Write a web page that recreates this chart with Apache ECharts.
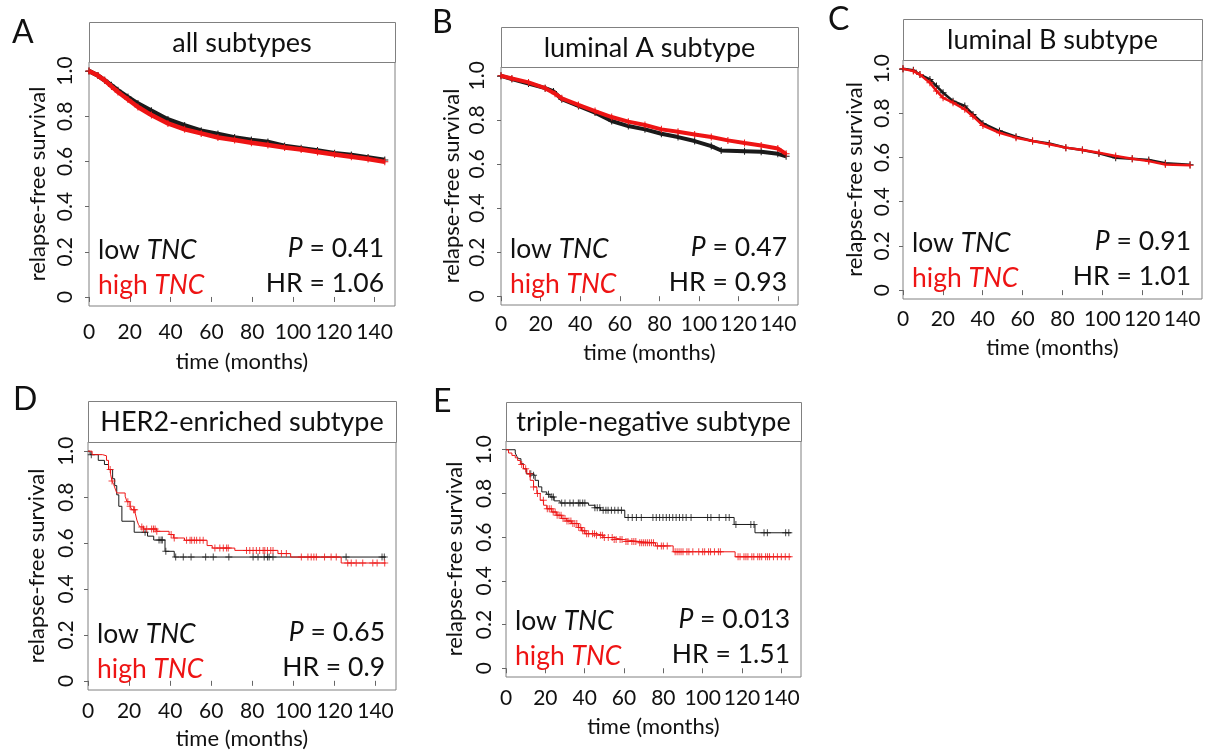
<!DOCTYPE html>
<html>
<head>
<meta charset="utf-8">
<title>TNC relapse-free survival by subtype</title>
<script src="https://cdn.jsdelivr.net/npm/echarts@6/dist/echarts.min.js"></script>
<style>
  html, body { margin: 0; padding: 0; background: #fff; }
  #chart { width: 1207px; height: 752px; }
</style>
</head>
<body>
<div id="chart"></div>
<script>
// ticks
const monthTicks = [0, 20, 40, 60, 80, 100, 120, 140]
const survivalTicks = [0, 0.2, 0.4, 0.6, 0.8, 1.0]

const panelLetters = ['A', 'B', 'C', 'D', 'E']
const panelTitles = ['all subtypes', 'luminal A subtype', 'luminal B subtype', 'HER2-enriched subtype', 'triple-negative subtype']
const pValues = ['0.41', '0.47', '0.91', '0.65', '0.013']
const hrValues = ['1.06', '0.93', '1.01', '0.9', '1.51']

// dense cohorts: [month, survival]
const allLow = [[0, 1.0], [4.4, 0.98], [7.7, 0.959], [11, 0.937], [14.2, 0.915], [19.1, 0.885], [24, 0.856], [30.6, 0.824], [38.7, 0.786], [46.9, 0.759], [55, 0.736], [63.2, 0.721], [71.4, 0.706], [79.6, 0.695], [87.7, 0.686], [95.9, 0.668], [104, 0.658], [112, 0.648], [120.4, 0.636], [128.6, 0.628], [136.8, 0.617], [145, 0.606]]
const allHigh = [[0, 1.0], [4.4, 0.98], [7.7, 0.959], [11, 0.932], [14.2, 0.907], [19.1, 0.874], [24, 0.841], [30.6, 0.805], [38.7, 0.768], [46.9, 0.742], [55, 0.724], [63.2, 0.706], [71.4, 0.695], [79.6, 0.683], [87.7, 0.673], [95.9, 0.662], [104, 0.653], [112, 0.642], [120.4, 0.631], [128.6, 0.621], [136.8, 0.611], [145, 0.598]]

const lumALow = [[0, 1.0], [5.5, 0.985], [13.9, 0.965], [22.3, 0.944], [26.5, 0.929], [30.7, 0.894], [39.1, 0.863], [47.5, 0.833], [55.9, 0.795], [64.3, 0.772], [72.7, 0.757], [81, 0.737], [89.4, 0.722], [97.8, 0.704], [106.2, 0.681], [111.2, 0.661], [123, 0.658], [131.4, 0.655], [139.8, 0.646], [144, 0.635]]
const lumAHigh = [[0, 1.0], [5.5, 0.988], [13.9, 0.97], [22.3, 0.944], [27.3, 0.919], [30.7, 0.898], [39.1, 0.868], [47.5, 0.84], [55.9, 0.813], [64.3, 0.792], [72.7, 0.777], [81, 0.757], [89.4, 0.746], [97.8, 0.734], [106.2, 0.722], [114.6, 0.707], [123, 0.695], [131.4, 0.684], [139.8, 0.67], [144, 0.646]]

const lumBLow = [[0, 1.0], [5.2, 0.994], [8.5, 0.974], [13.5, 0.952], [16.8, 0.922], [20.1, 0.892], [25.1, 0.854], [31, 0.832], [35.1, 0.794], [40.1, 0.753], [48.4, 0.719], [56.7, 0.693], [65, 0.674], [73.4, 0.663], [81.7, 0.644], [90, 0.633], [98.3, 0.618], [106.7, 0.598], [115, 0.594], [123.3, 0.588], [131.6, 0.573], [144, 0.567]]
const lumBHigh = [[0, 1.0], [5.2, 0.99], [8.5, 0.974], [13.5, 0.937], [16.8, 0.9], [20.1, 0.869], [25.1, 0.847], [31, 0.817], [35.1, 0.786], [40.1, 0.744], [48.4, 0.711], [56.7, 0.689], [65, 0.674], [73.4, 0.659], [81.7, 0.644], [90, 0.633], [98.3, 0.621], [106.7, 0.606], [115, 0.594], [123.3, 0.583], [131.6, 0.568], [144, 0.564]]

// small cohorts: KM steps [month, survival after the drop] and censor months
const her2Low = [[0, 1.0], [1, 0.985], [5, 0.96], [8, 0.942], [10, 0.92], [12, 0.88], [13, 0.85], [14, 0.81], [15, 0.76], [16.5, 0.695], [22.5, 0.647], [29, 0.63], [32, 0.613], [37.5, 0.564], [42, 0.539], [145, 0.539]]
const her2High = [[0, 1.0], [2, 0.985], [7, 0.98], [9, 0.96], [10, 0.92], [11, 0.9], [11.7, 0.87], [12.5, 0.855], [13.3, 0.835], [14, 0.818], [18.1, 0.804], [19, 0.78], [20.5, 0.76], [21.4, 0.745], [23, 0.73], [23.8, 0.7], [24.6, 0.68], [25.4, 0.67], [27, 0.661], [33.5, 0.651], [39.5, 0.637], [41.6, 0.622], [47, 0.612], [58, 0.589], [60.5, 0.578], [71.5, 0.568], [92.5, 0.554], [98.7, 0.539], [123.3, 0.513], [145, 0.513]]
const her2LowCensor = [1.6, 27.8, 34.6, 35.6, 36.2, 37.9, 42.7, 46.4, 50.2, 57.3, 61, 68.6, 80.4, 82.8, 85.8, 87.4, 88.2, 90.1, 125.7, 143.2, 144.3]
const her2HighCensor = [10.8, 11.7, 19.4, 20.5, 22.2, 22.7, 26.2, 27, 28.6, 31, 31.9, 32.7, 33.5, 40.5, 42, 48, 49.7, 50.5, 51.8, 52.9, 54.5, 56.1, 61.8, 64.2, 65.9, 67.5, 68.3, 77.2, 78.8, 80.4, 82, 83.6, 85.3, 86.1, 87.4, 89, 90.1, 94.2, 96.6, 103.9, 107.1, 108.7, 110, 111.2, 115.2, 118.4, 120.9, 126.5, 128.2, 130.6, 133.8, 138.7, 140.8, 144.5]

const tnLow = [[0, 1.0], [4.7, 0.985], [5.5, 0.97], [6.4, 0.959], [7.6, 0.936], [8.9, 0.913], [10.3, 0.89], [13.2, 0.883], [14.8, 0.86], [16.5, 0.83], [18.2, 0.807], [20.7, 0.796], [22.4, 0.784], [24.5, 0.766], [27.5, 0.756], [42, 0.746], [45.2, 0.735], [48, 0.723], [60.4, 0.69], [116, 0.658], [126.6, 0.62], [145, 0.62]]
const tnHigh = [[0, 1.0], [1.3, 0.985], [3, 0.974], [4.7, 0.963], [5.9, 0.951], [7.3, 0.933], [8.9, 0.913], [10.6, 0.89], [12.3, 0.86], [14, 0.83], [15.7, 0.8], [17.4, 0.769], [19.1, 0.746], [20.7, 0.73], [23.3, 0.715], [25.8, 0.7], [28.3, 0.685], [30.9, 0.674], [33.4, 0.662], [36.8, 0.644], [38.4, 0.629], [40.1, 0.616], [45.2, 0.609], [49.4, 0.598], [54.5, 0.589], [59.5, 0.58], [68, 0.574], [76, 0.56], [85, 0.533], [116.5, 0.51], [145, 0.51]]
const tnLowCensor = [12.6, 14, 21.6, 23.3, 24.1, 28.3, 30, 32.5, 34.2, 36.8, 37.6, 39, 40.1, 45.2, 46.4, 47.7, 49.4, 50.8, 51.9, 53.6, 55.3, 57, 58.7, 62.1, 64.2, 66.3, 68.8, 74.7, 76.4, 78.1, 79.8, 81.5, 83.1, 84.8, 86.5, 88.2, 89.9, 91.6, 94.1, 102.5, 104.2, 108.4, 111.8, 113.5, 116.9, 124.5, 126.1, 131.2, 132.9, 142.2, 143.8]
const tnHighCensor = [8, 10, 12, 14, 16, 19, 21, 22, 23, 24, 25, 26, 27, 28, 29, 30, 31, 32, 33, 34, 35, 36, 37, 38, 39, 40, 41, 42, 44, 45, 46, 48, 49, 50, 52, 54, 55, 56, 58, 59, 61, 62, 64, 65, 66, 68, 69, 70, 71, 72, 73, 74, 75, 77, 79, 80, 82, 86, 87, 88, 89, 90, 92, 93, 95, 98, 100, 101, 103, 104, 106, 108, 109, 118, 119, 121, 122, 123, 125, 126, 128, 129, 130, 132, 133, 134, 136, 138, 140, 142, 144]

const panels = [
  { low: allLow, high: allHigh, width: 4.5 },
  { low: lumALow, high: lumAHigh, width: 4 },
  { low: lumBLow, high: lumBHigh, width: 2.5 },
  { low: her2Low, high: her2High, lowCensor: her2LowCensor, highCensor: her2HighCensor, width: 1 },
  { low: tnLow, high: tnHigh, lowCensor: tnLowCensor, highCensor: tnHighCensor, width: 1 },
]

// layout of each panel (px): plot box, header top, letter spot, label gaps
const boxes = [
  { left: 89, top: 62, width: 306, height: 244, head: 22, lx: 12, ly: 33, xLab: 16, xName: 45, yLab: 13, yName: 40 },
  { left: 501, top: 67, width: 297, height: 238, head: 27, lx: 432, ly: 23, xLab: 9, xName: 37, yLab: 13, yName: 38 },
  { left: 903, top: 60, width: 299, height: 239, head: 19, lx: 828, ly: 20, xLab: 10, xName: 38, yLab: 10, yName: 37 },
  { left: 88, top: 442, width: 308, height: 248, head: 401, lx: 13, ly: 400, xLab: 11, xName: 38, yLab: 11, yName: 40 },
  { left: 506, top: 441, width: 295, height: 236, head: 402, lx: 433, ly: 402, xLab: 11, xName: 39, yLab: 11, yName: 40 },
]

const FONT = 'Lato, "Open Sans", sans-serif'
const RED = '#ee1414'
const LOW = '#1a1a1a'
const CROSS = 'path://M3,0H4V3H7V4H4V7H3V4H0V3H3Z'
const NOTE = 26.5
const TICK = 21

function survivalAt(steps, t) {
  let v = steps[0][1]
  steps.forEach(([x, y]) => { if (x <= t) v = y })
  return v
}

let chart = echarts.init(document.getElementById('chart'), null, { renderer: 'canvas' })

let grid = [], xAxis = [], yAxis = [], series = [], graphic = []

boxes.forEach((b, i) => {
  grid.push({
    left: b.left, top: b.top, width: b.width, height: b.height,
    show: true, borderColor: '#808080', borderWidth: 1, backgroundColor: '#fff',
  })
  xAxis.push({
    gridIndex: i, type: 'value', min: 0, max: 150,
    name: 'time (months)', nameLocation: 'middle', nameGap: b.xName, nameMoveOverlap: false,
    nameTextStyle: { fontFamily: FONT, fontSize: 22, color: '#111' },
    axisLine: { show: false },
    axisTick: { show: true, length: 5, lineStyle: { color: '#666' }, customValues: monthTicks },
    axisLabel: { fontFamily: FONT, fontSize: TICK, color: '#111', margin: b.xLab, customValues: monthTicks },
    splitLine: { show: false },
  })
  yAxis.push({
    gridIndex: i, type: 'value', min: -0.04, max: 1.04,
    name: 'relapse-free survival', nameLocation: 'middle', nameGap: b.yName, nameMoveOverlap: false,
    nameTextStyle: { fontFamily: FONT, fontSize: 22, color: '#111' },
    axisLine: { show: false },
    axisTick: { show: true, length: 4, lineStyle: { color: '#666' }, customValues: survivalTicks },
    axisLabel: {
      fontFamily: FONT, fontSize: TICK, color: '#111', rotate: 90, margin: b.yLab,
      customValues: survivalTicks,
      formatter: (v) => (v === 0 ? '0' : v.toFixed(1)),
    },
    splitLine: { show: false },
  })

  let p = panels[i]
  let stepped = !!p.lowCensor
  ;[['low', LOW], ['high', RED]].forEach(([key, color]) => {
    series.push({
      type: 'line', xAxisIndex: i, yAxisIndex: i, data: p[key],
      step: stepped ? 'end' : false,
      showSymbol: !stepped, symbol: CROSS, symbolSize: 7,
      lineStyle: { color, width: p.width },
      itemStyle: { color },
      silent: true, animation: false, z: key === 'high' ? 3 : 2,
    })
    if (stepped) {
      series.push({
        type: 'scatter', xAxisIndex: i, yAxisIndex: i,
        data: p[key + 'Censor'].map((t) => [t, survivalAt(p[key], t)]),
        symbol: CROSS, symbolSize: 7, itemStyle: { color },
        silent: true, animation: false, z: key === 'high' ? 3 : 2,
      })
    }
  })

  // header box with subtype name
  graphic.push({
    type: 'rect', silent: true,
    shape: { x: b.left + 0.5, y: b.head + 0.5, width: b.width, height: b.top - b.head },
    style: { fill: '#fff', stroke: '#808080', lineWidth: 1 },
  })
  graphic.push({
    type: 'text', silent: true, x: b.left + b.width / 2, y: (b.head + b.top) / 2 + 1,
    style: { text: panelTitles[i], fontFamily: FONT, fontSize: 27, fill: '#111', align: 'center', verticalAlign: 'middle' },
  })
  // panel letter
  graphic.push({
    type: 'text', silent: true, x: b.lx, y: b.ly,
    style: { text: panelLetters[i], fontFamily: FONT, fontSize: 32, fill: '#111', align: 'left', verticalAlign: 'middle' },
  })
  // legend-like labels and statistics
  let bottom = b.top + b.height
  graphic.push({
    type: 'text', silent: true, x: b.left + 9, y: bottom - 56, z: 10,
    style: {
      text: '{n|low }{i|TNC}', align: 'left', verticalAlign: 'middle',
      rich: {
        n: { fontFamily: FONT, fontSize: NOTE, fill: '#111' },
        i: { fontFamily: FONT, fontSize: NOTE, fill: '#111', fontStyle: 'italic' },
      },
    },
  })
  graphic.push({
    type: 'text', silent: true, x: b.left + 9, y: bottom - 21, z: 10,
    style: {
      text: '{n|high }{i|TNC}', align: 'left', verticalAlign: 'middle',
      rich: {
        n: { fontFamily: FONT, fontSize: NOTE, fill: RED },
        i: { fontFamily: FONT, fontSize: NOTE, fill: RED, fontStyle: 'italic' },
      },
    },
  })
  graphic.push({
    type: 'text', silent: true, x: b.left + b.width - 11, y: bottom - 58, z: 10,
    style: {
      text: '{i|P}{n| = ' + pValues[i] + '}', align: 'right', verticalAlign: 'middle',
      rich: {
        n: { fontFamily: FONT, fontSize: NOTE, fill: '#111' },
        i: { fontFamily: FONT, fontSize: NOTE, fill: '#111', fontStyle: 'italic' },
      },
    },
  })
  graphic.push({
    type: 'text', silent: true, x: b.left + b.width - 11, y: bottom - 23, z: 10,
    style: { text: 'HR = ' + hrValues[i], fontFamily: FONT, fontSize: NOTE, fill: '#111', align: 'right', verticalAlign: 'middle' },
  })
})

let option = {
  backgroundColor: '#fff',
  animation: false,
  grid,
  xAxis,
  yAxis,
  series,
  graphic,
}
chart.setOption(option)
</script>
</body>
</html>
